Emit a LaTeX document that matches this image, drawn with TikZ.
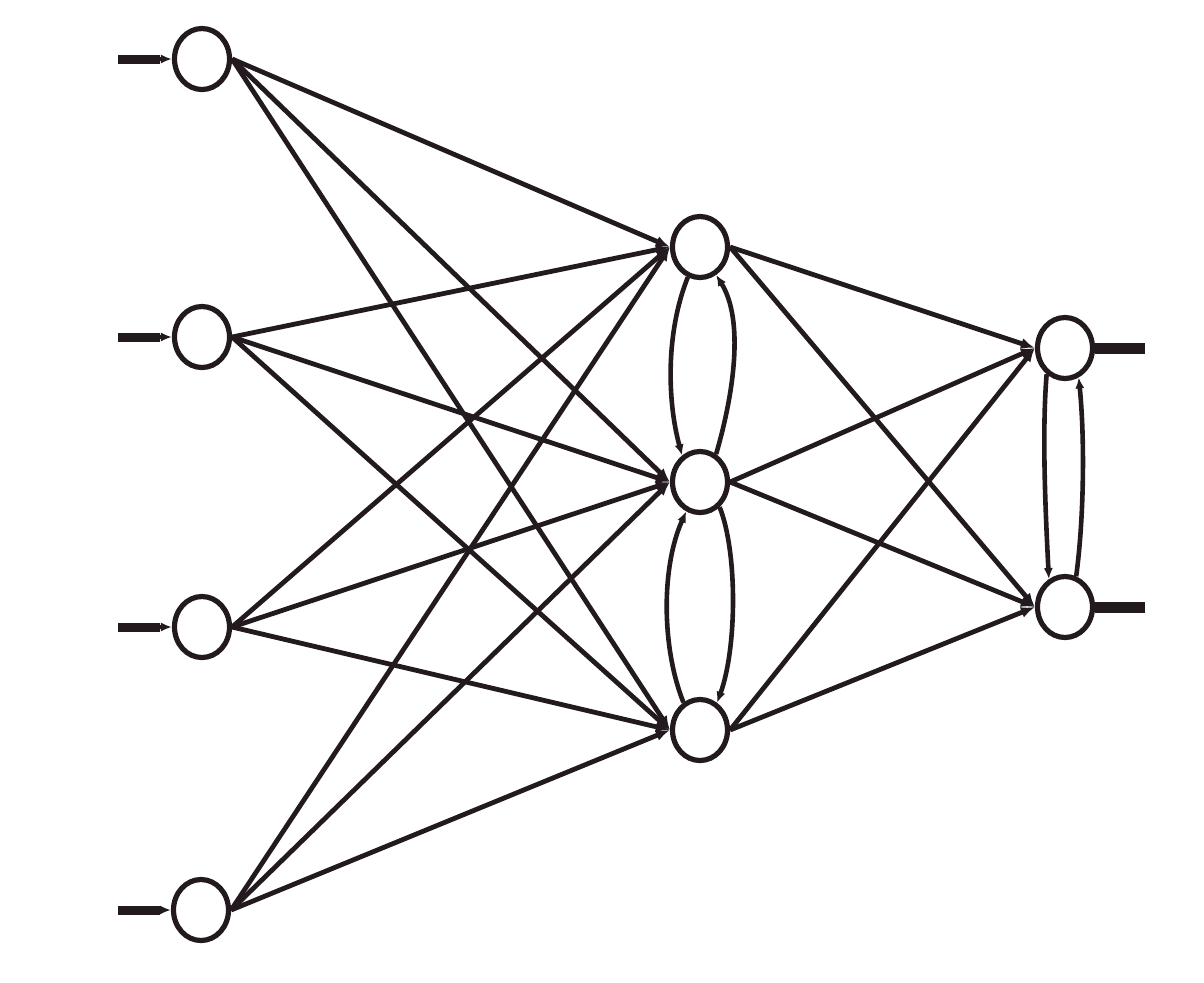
\documentclass[tikz,border=0pt]{standalone}
\usetikzlibrary{shapes.geometric,arrows.meta}
\definecolor{ink}{HTML}{221A1E}
\begin{document}
\begin{tikzpicture}[x=0.5pt,y=-0.5pt,
  neuron/.style={ellipse,draw=ink,line width=2.6pt,minimum width=27.5pt,minimum height=30.5pt,inner sep=0pt,fill=white},
  conn/.style={draw=ink,line width=2.4pt,-{Latex[length=7pt,width=5.6pt]}},
  loop/.style={draw=ink,line width=2.3pt,-{Latex[length=5.5pt,width=4.6pt]}},
  feed/.style={draw=ink,line width=4.5pt},
  outfeed/.style={draw=ink,line width=5.5pt}]
\useasboundingbox[fill=white] (0,0) rectangle (1204,982);
% input layer
\node[neuron] (I1) at (202,59) {};
\node[neuron] (I2) at (202,337) {};
\node[neuron] (I3) at (202,627) {};
\node[neuron] (I4) at (201,910) {};
% hidden layer
\node[neuron] (H1) at (700,247) {};
\node[neuron] (H2) at (700,482) {};
\node[neuron] (H3) at (700,730) {};
% output layer
\node[neuron] (O1) at (1065,348) {};
\node[neuron] (O2) at (1065,607) {};
% external inputs
\foreach \i/\y in {1/59,2/337,3/627,4/910}{
  \coordinate (s\i) at (118,\y);
  \draw[feed] (s\i) -- ++(42,0);
  \draw[loop] (s\i) -- (I\i.west);
}
% external outputs
\coordinate (t1) at (1145,348);
\coordinate (t2) at (1145,607);
\draw[outfeed] (O1.east) -- (t1);
\draw[outfeed] (O2.east) -- (t2);
% input -> hidden
\foreach \i in {1,2,3,4}{
  \foreach \j in {1,2,3}{
    \draw[conn] (I\i.east) -- (H\j.west);
  }
}
% hidden -> output
\foreach \j in {1,2,3}{
  \foreach \k in {1,2}{
    \draw[conn] (H\j.east) -- (O\k.west);
  }
}
% recurrent links in hidden layer
\draw[loop] (H1.248) .. controls +(-22,55) and +(-15,-55) .. (H2.124);
\draw[loop] (H2.60) .. controls +(18,-62) and +(28,45) .. (H1.300);
\draw[loop] (H3.121) .. controls +(-22,-55) and +(-25,55) .. (H2.245);
\draw[loop] (H2.308) .. controls +(18,45) and +(20,-55) .. (H3.58);
% recurrent links in output layer
\draw[loop] (O1.235) .. controls +(-5,60) and +(-3,-60) .. (O2.120);
\draw[loop] (O2.70) .. controls +(8,-60) and +(6,60) .. (O1.295);
\end{tikzpicture}
\end{document}
